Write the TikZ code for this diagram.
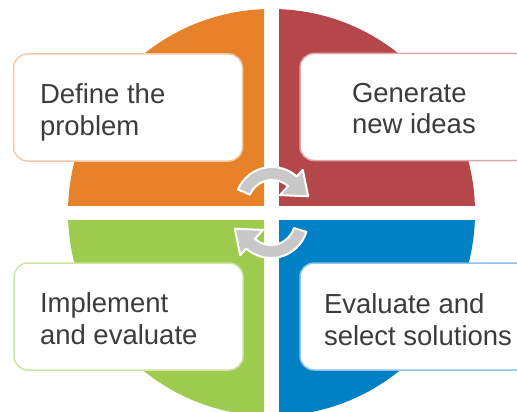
\documentclass[tikz,border=0pt]{standalone}
\usepackage{fontspec}
\setmainfont{Liberation Sans}
\usetikzlibrary{positioning}
\definecolor{quarterorange}{RGB}{232,130,42}
\definecolor{quarterred}{RGB}{181,71,75}
\definecolor{quartergreen}{RGB}{157,203,78}
\definecolor{quarterblue}{RGB}{0,128,197}
\definecolor{peach}{RGB}{246,201,166}
\definecolor{pink}{RGB}{223,165,168}
\definecolor{palegreen}{RGB}{205,228,163}
\definecolor{paleblue}{RGB}{140,195,230}
\definecolor{turngray}{RGB}{200,200,200}
\definecolor{textgray}{RGB}{60,60,60}
\tikzset{
	stage/.style={
		rectangle,
		rounded corners=14pt,
		fill=white,
		line width=1.5pt,
		minimum width=229pt,
		minimum height=107pt,
		inner sep=0pt,
		outer sep=0pt
	},
	stage text/.style={
		align=left,
		inner sep=0pt,
		outer sep=0pt,
		text=textgray,
		font=\fontsize{27.5}{31.5}\selectfont
	},
	turn/.style={fill=turngray, draw=white, line width=2pt, line join=round}
}
\newcommand{\circlequarter}[2]{% colour, clip rectangle
	\begin{scope}
		\clip #2;
		\fill[#1] (centre) circle (203.5);
	\end{scope}
}
\newcommand{\stagebox}[5]{% node name, border colour, centre, text, text offset
	\node[stage, draw=#2] (#1) at #3 {};
	\node[stage text, below right=#5 of #1.north west] (#1 text) {#4}
}

\begin{document}
\begin{tikzpicture}[x=1pt, y=-1pt]
	\useasboundingbox (0,0) rectangle (517,412);
	\coordinate (centre) at (271.5,212.5);
	
	\circlequarter{quarterorange}{(0,0) rectangle (264,205)}
	\circlequarter{quarterred}{(279,0) rectangle (530,205)}
	\circlequarter{quartergreen}{(0,220) rectangle (264,430)}
	\circlequarter{quarterblue}{(279,220) rectangle (530,430)}
	
	\stagebox{define}{peach}{(128,107.5)}{Define the\\problem}{30pt and 26.5pt};
	\stagebox{generate}{pink}{(414.5,107)}{Generate\\new ideas}{29.5pt and 52pt};
	\stagebox{implement}{palegreen}{(128.5,316.5)}{Implement\\and evaluate}{30pt and 26pt};
	\stagebox{evaluate}{paleblue}{(414.5,316.5)}{Evaluate and\\select solutions}{31pt and 24pt};
	
	\coordinate (top turn) at (272,204);
	\coordinate (bottom turn) at (271,221);
	\begin{scope}[shift={(top turn)}]
		\filldraw[turn] (203:37) arc[start angle=203, end angle=312, radius=37]
			-- (312:46) -- (348:37) -- (312:12) -- (312:24)
			arc[start angle=312, end angle=203, radius=24] -- cycle;
	\end{scope}
	\begin{scope}[shift={(bottom turn)}]
		\filldraw[turn] (17:37) arc[start angle=17, end angle=132, radius=37]
			-- (132:46) -- (168:37) -- (132:12) -- (132:24)
			arc[start angle=132, end angle=17, radius=24] -- cycle;
	\end{scope}
\end{tikzpicture}
\end{document}
